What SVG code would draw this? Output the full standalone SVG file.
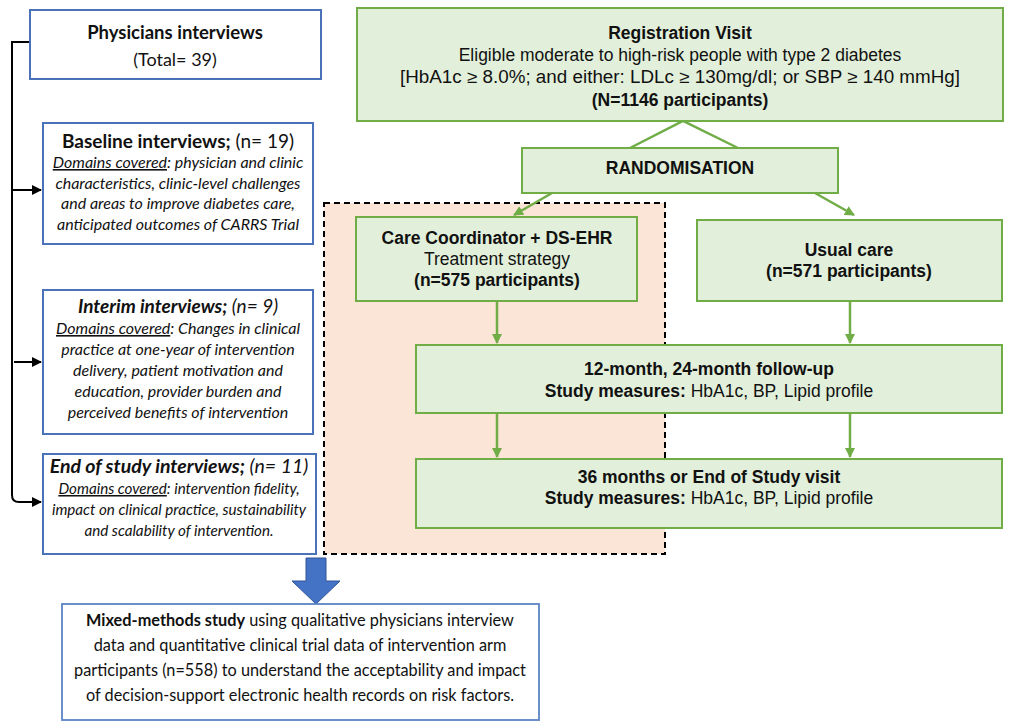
<svg xmlns="http://www.w3.org/2000/svg" width="1009" height="722" viewBox="0 0 1009 722">
<style>
.bbox{fill:#ffffff;stroke:#4a72b8;stroke-width:2}
.gbox{fill:#e2efda;stroke:#70ad47;stroke-width:2}
.lt{font-family:Lato,"Open Sans",sans-serif;fill:#111}
.rt{font-family:"Liberation Sans",Arial,sans-serif;fill:#111;font-size:17.5px}
.it{font-style:italic;font-size:16px}
.its{font-style:italic;font-size:15.2px}
.b{font-weight:bold}
.u{text-decoration:underline}
.gl{stroke:#70ad47;stroke-width:2.5;fill:none}
.kl{stroke:#000;stroke-width:2;fill:none}
</style>
<defs>
<marker id="ga" viewBox="0 0 10 10" refX="9" refY="5" markerWidth="4" markerHeight="4" orient="auto" markerUnits="strokeWidth"><path d="M0,0L10,5L0,10z" fill="#70ad47"/></marker>
<marker id="ka" viewBox="0 0 10 10" refX="9" refY="5" markerWidth="5" markerHeight="5" orient="auto" markerUnits="strokeWidth"><path d="M0,0L10,5L0,10z" fill="#000"/></marker>
</defs>
<rect width="1009" height="722" fill="#fff"/>
<g id="intervention-arm">
<rect x="324" y="203" width="341" height="351" fill="#fbe5d6" stroke="#000" stroke-width="2" stroke-dasharray="6 4"/>
</g>
<g id="connectors">
<path class="kl" d="M30,42H12V495Q12,502 19,502H41" marker-end="url(#ka)"/>
<path class="kl" d="M12,190H41" marker-end="url(#ka)"/>
<path class="kl" d="M14,362H41" marker-end="url(#ka)"/>
<path class="gl" d="M630,148L683,121L738,148"/>
<path class="gl" d="M552,193L514,215" marker-end="url(#ga)"/>
<path class="gl" d="M815,193L854,215" marker-end="url(#ga)"/>
<path class="gl" d="M497,301V343" marker-end="url(#ga)"/>
<path class="gl" d="M850,301V343" marker-end="url(#ga)"/>
<path class="gl" d="M497,414V457" marker-end="url(#ga)"/>
<path class="gl" d="M850,414V457" marker-end="url(#ga)"/>
<polygon points="306,558 326,558 326,581 340,581 316,604 292,581 306,581" fill="#4472c4" stroke="#2f5597" stroke-width="1"/>
</g>
<g id="physicians">
<rect class="bbox" x="30" y="10" width="291" height="69"/>
<text class="lt b" x="175" y="39" text-anchor="middle" font-size="18.5">Physicians interviews</text>
<text class="lt" x="175" y="66" text-anchor="middle" font-size="18">(Total= 39)</text>
</g>
<g id="baseline">
<rect class="bbox" x="43" y="123" width="270" height="121"/>
<text class="lt" x="178" y="148" text-anchor="middle" font-size="19"><tspan class="b">Baseline interviews;</tspan> (n= 19)</text>
<text class="lt it" x="178" y="168" text-anchor="middle"><tspan class="u">Domains covered</tspan>: physician and clinic</text>
<text class="lt it" x="178" y="189" text-anchor="middle">characteristics, clinic-level challenges</text>
<text class="lt it" x="178" y="209" text-anchor="middle">and areas to improve diabetes care,</text>
<text class="lt it" x="178" y="230" text-anchor="middle">anticipated outcomes of CARRS Trial</text>
</g>
<g id="interim">
<rect class="bbox" x="43" y="290" width="270" height="144"/>
<text class="lt" x="178" y="313" text-anchor="middle" font-size="19" font-style="italic"><tspan class="b">Interim interviews;</tspan> (n= 9)</text>
<text class="lt it" x="178" y="334" text-anchor="middle"><tspan class="u">Domains covered</tspan>: Changes in clinical</text>
<text class="lt it" x="178" y="355" text-anchor="middle">practice at one-year of intervention</text>
<text class="lt it" x="178" y="376" text-anchor="middle">delivery, patient motivation and</text>
<text class="lt it" x="178" y="397" text-anchor="middle">education, provider burden and</text>
<text class="lt it" x="178" y="418" text-anchor="middle">perceived benefits of intervention</text>
</g>
<g id="end-of-study">
<rect class="bbox" x="43" y="454" width="273" height="100"/>
<text class="lt" x="179" y="473" text-anchor="middle" font-size="19.5" font-style="italic"><tspan class="b">End of study interviews;</tspan> (n= 11)</text>
<text class="lt its" x="179" y="494" text-anchor="middle"><tspan class="u">Domains covered</tspan>: intervention fidelity,</text>
<text class="lt its" x="179" y="515" text-anchor="middle">impact on clinical practice, sustainability</text>
<text class="lt its" x="179" y="536" text-anchor="middle">and scalability of intervention.</text>
</g>
<g id="mixed-methods">
<rect x="62" y="604" width="477" height="116" fill="#fff" stroke="#5b84c4" stroke-width="1.8"/>
<text class="lt" x="300" y="626" text-anchor="middle" font-size="16.3"><tspan class="b">Mixed-methods study</tspan> using qualitative physicians interview</text>
<text class="lt" x="300" y="651" text-anchor="middle" font-size="16.3">data and quantitative clinical trial data of intervention arm</text>
<text class="lt" x="300" y="676" text-anchor="middle" font-size="16.3">participants (n=558) to understand the acceptability and impact</text>
<text class="lt" x="300" y="701" text-anchor="middle" font-size="16.3">of decision-support electronic health records on risk factors.</text>
</g>
<g id="registration">
<rect class="gbox" x="357" y="8" width="646" height="113"/>
<text class="rt b" x="680" y="39" text-anchor="middle">Registration Visit</text>
<text class="rt" x="680" y="61" text-anchor="middle" font-size="17.8">Eligible moderate to high-risk people with type 2 diabetes</text>
<text class="rt" x="680" y="83" text-anchor="middle" font-size="17.8" textLength="560" lengthAdjust="spacingAndGlyphs">[HbA1c ≥ 8.0%; and either: LDLc ≥ 130mg/dl; or SBP ≥ 140 mmHg]</text>
<text class="rt b" x="680" y="106" text-anchor="middle">(N=1146 participants)</text>
</g>
<g id="randomisation">
<rect class="gbox" x="522" y="148" width="316" height="45"/>
<text class="rt b" x="680" y="174" text-anchor="middle">RANDOMISATION</text>
</g>
<g id="care-coordinator">
<rect class="gbox" x="356" y="217" width="281" height="84"/>
<text class="rt b" x="497" y="244" text-anchor="middle">Care Coordinator + DS-EHR</text>
<text class="rt" x="497" y="265" text-anchor="middle">Treatment strategy</text>
<text class="rt b" x="497" y="286" text-anchor="middle">(n=575 participants)</text>
</g>
<g id="usual-care">
<rect class="gbox" x="697" y="220" width="305" height="81"/>
<text class="rt b" x="849" y="256" text-anchor="middle">Usual care</text>
<text class="rt b" x="849" y="277" text-anchor="middle">(n=571 participants)</text>
</g>
<g id="followup-12-24">
<rect class="gbox" x="416" y="345" width="586" height="68"/>
<text class="rt b" x="709" y="375" text-anchor="middle">12-month, 24-month follow-up</text>
<text class="rt" x="709" y="397" text-anchor="middle"><tspan class="b">Study measures:</tspan> HbA1c, BP, Lipid profile</text>
</g>
<g id="end-visit">
<rect class="gbox" x="416" y="459" width="586" height="69"/>
<text class="rt b" x="709" y="483" text-anchor="middle">36 months or End of Study visit</text>
<text class="rt" x="709" y="504" text-anchor="middle"><tspan class="b">Study measures:</tspan> HbA1c, BP, Lipid profile</text>
</g>
</svg>
